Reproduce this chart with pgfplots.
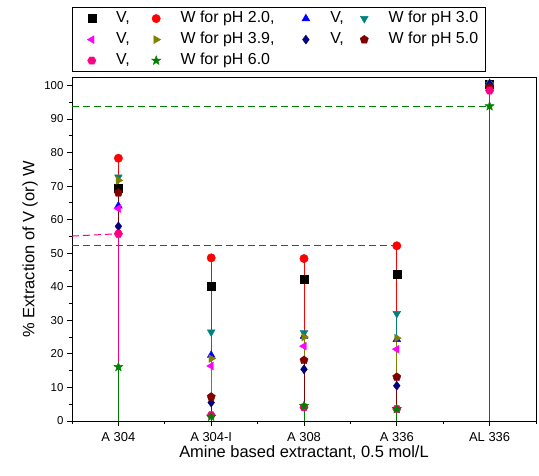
\documentclass[border=0pt]{standalone}
\usepackage{fontspec}
\setmainfont{Liberation Sans}
\usepackage{pgfplots}
\usetikzlibrary{plotmarks}
\pgfplotsset{compat=1.18}
\usepackage{pgfplotstable}

\definecolor{cV20}{RGB}{0,0,0}
\definecolor{cW20}{RGB}{255,0,0}
\definecolor{cV30}{RGB}{0,0,255}
\definecolor{cW30}{RGB}{0,128,128}
\definecolor{cV39}{RGB}{255,0,255}
\definecolor{cW39}{RGB}{128,128,0}
\definecolor{cV50}{RGB}{0,0,128}
\definecolor{cW50}{RGB}{128,0,0}
\definecolor{cV60}{RGB}{255,0,128}
\definecolor{cW60}{RGB}{0,128,0}

\pgfdeclareplotmark{hexagon*}{%
  \pgfpathmoveto{\pgfqpointpolar{0}{\pgfplotmarksize}}%
  \pgfpathlineto{\pgfqpointpolar{60}{\pgfplotmarksize}}%
  \pgfpathlineto{\pgfqpointpolar{120}{\pgfplotmarksize}}%
  \pgfpathlineto{\pgfqpointpolar{180}{\pgfplotmarksize}}%
  \pgfpathlineto{\pgfqpointpolar{240}{\pgfplotmarksize}}%
  \pgfpathlineto{\pgfqpointpolar{300}{\pgfplotmarksize}}%
  \pgfpathclose\pgfusepathqfillstroke}
\pgfdeclareplotmark{fstar}{%
  \pgfpathmoveto{\pgfqpointpolar{90}{1.2\pgfplotmarksize}}%
  \pgfpathlineto{\pgfqpointpolar{126}{0.5\pgfplotmarksize}}%
  \pgfpathlineto{\pgfqpointpolar{162}{1.2\pgfplotmarksize}}%
  \pgfpathlineto{\pgfqpointpolar{198}{0.5\pgfplotmarksize}}%
  \pgfpathlineto{\pgfqpointpolar{234}{1.2\pgfplotmarksize}}%
  \pgfpathlineto{\pgfqpointpolar{270}{0.5\pgfplotmarksize}}%
  \pgfpathlineto{\pgfqpointpolar{306}{1.2\pgfplotmarksize}}%
  \pgfpathlineto{\pgfqpointpolar{342}{0.5\pgfplotmarksize}}%
  \pgfpathlineto{\pgfqpointpolar{18}{1.2\pgfplotmarksize}}%
  \pgfpathlineto{\pgfqpointpolar{54}{0.5\pgfplotmarksize}}%
  \pgfpathclose\pgfusepathqfillstroke}

\pgfplotstableread{
x  V20   W20   V30   W30   V39   W39   V50   W50   V60   W60
0  69.3  78.3  64.1  72.7  63.3  71.7  58.0  68.0  55.8  16.1
1  40.2  48.6  19.6  26.5  16.4  18.6  5.5   7.2   1.7   1.3
2  42.2  48.4  25.3  26.3  22.3  25.0  15.4  18.1  4.1   4.5
3  43.8  52.2  24.3  32.0  21.4  24.7  10.5  13.1  3.6   3.6
4  100.3 100.0 100.6 100.3 100.1 100.4 100.3 99.5  98.5  93.8
}\datatable

\begin{document}
\begin{tikzpicture}
\path[use as bounding box] (-72bp,-55bp) rectangle (467bp,421bp);
\begin{axis}[
  scale only axis,
  width=464bp, height=343bp,
  xmin=-0.5, xmax=4.5, ymin=0, ymax=102.2,
  xtick={0,1,2,3,4},
  xticklabels={A 304, A 304-I, A 308, A 336, AL 336},
  minor xtick={-0.5,0.5,1.5,2.5,3.5,4.5},
  ytick={0,10,...,100},
  minor ytick={5,15,...,95},
  tick align=outside,
  xtick pos=bottom, ytick pos=left,
  major tick length=5bp, minor tick length=3bp,
  every tick/.style={black, line width=0.8pt},
  axis line style={line width=1pt},
  /pgf/number format/assume math mode=true,
  yticklabel style={font=\fontsize{11.5}{13}\selectfont},
  xticklabel style={font=\fontsize{13}{15}\selectfont, yshift=-3bp},
  xlabel={Amine based extractant, 0.5 mol/L},
  ylabel={\% Extraction of V (or) W},
  label style={font=\fontsize{16.5}{19}\selectfont},
  xlabel style={at={(axis description cs:0.5,-0.092)}, anchor=center},
  ylabel style={at={(axis description cs:-0.0905,0.5)}, anchor=center},
  legend columns=4,
  legend cell align=left,
  legend style={at={(axis description cs:0,1)}, anchor=south west, yshift=6bp,
    font=\fontsize{16}{18}\selectfont, draw=black, line width=0.8pt,
    inner xsep=5bp, inner ysep=2bp, row sep=3bp,
    nodes={inner sep=2bp, text height=11bp, text depth=3bp},
    /tikz/column 2/.style={column sep=10bp},
    /tikz/column 4/.style={column sep=15bp},
    /tikz/column 6/.style={column sep=4bp}},
  legend image code/.code={\path (0bp,0bp) (36bp,0bp); \draw[line width=0.4pt] plot coordinates {(14bp,0bp)};},
]
% drop lines
\addplot[cV20, ycomb, line width=0.8pt, forget plot] table[x=x,y=V20]{\datatable};
\addplot[cW20, ycomb, line width=0.8pt, forget plot] table[x=x,y=W20]{\datatable};
\addplot[cV30, ycomb, line width=0.8pt, forget plot] table[x=x,y=V30]{\datatable};
\addplot[cW30, ycomb, line width=0.8pt, forget plot] table[x=x,y=W30]{\datatable};
\addplot[cV39, ycomb, line width=0.8pt, forget plot] table[x=x,y=V39]{\datatable};
\addplot[cW39, ycomb, line width=0.8pt, forget plot] table[x=x,y=W39]{\datatable};
\addplot[cV50, ycomb, line width=0.8pt, forget plot] table[x=x,y=V50]{\datatable};
\addplot[cW50, ycomb, line width=0.8pt, forget plot] table[x=x,y=W50]{\datatable};
\addplot[cV60, ycomb, line width=0.8pt, forget plot] table[x=x,y=V60]{\datatable};
\addplot[cW60, ycomb, line width=0.8pt, forget plot] table[x=x,y=W60]{\datatable};
% dashed guide lines
\addplot[cV60, dash pattern=on 7bp off 4bp, line width=1bp, forget plot] coordinates {(-0.5,55.1) (0,55.8)};
\addplot[cW20, dash pattern=on 7bp off 4bp, line width=1bp, forget plot] coordinates {(-0.5,52.3) (3,52.3)};
\addplot[cW60, dash pattern=on 7bp off 4bp, line width=1bp, forget plot] coordinates {(-0.5,93.8) (4,93.8)};
% markers
\addplot[only marks, mark=square*, mark size=4bp, cV20] table[x=x,y=V20]{\datatable};
\addlegendentry{V,}
\addplot[only marks, mark=*, mark size=4.2bp, cW20] table[x=x,y=W20]{\datatable};
\addlegendentry{W for pH 2.0,}
\addplot[only marks, mark=triangle*, mark size=4.5bp, cV30] table[x=x,y=V30]{\datatable};
\addlegendentry{V,}
\addplot[only marks, mark=triangle*, mark size=4.5bp, mark options={rotate=180}, cW30] table[x=x,y=W30]{\datatable};
\addlegendentry{W for pH 3.0}
\addplot[only marks, mark=triangle*, mark size=4.5bp, mark options={rotate=90}, cV39] table[x=x,y=V39]{\datatable};
\addlegendentry{V,}
\addplot[only marks, mark=triangle*, mark size=4.5bp, mark options={rotate=-90}, cW39] table[x=x,y=W39]{\datatable};
\addlegendentry{W for pH 3.9,}
\addplot[only marks, mark=diamond*, mark size=4.5bp, cV50] table[x=x,y=V50]{\datatable};
\addlegendentry{V,}
\addplot[only marks, mark=pentagon*, mark size=4.3bp, cW50] table[x=x,y=W50]{\datatable};
\addlegendentry{W for pH 5.0}
\addplot[only marks, mark=hexagon*, mark size=4.2bp, cV60] table[x=x,y=V60]{\datatable};
\addlegendentry{V,}
\addplot[only marks, mark=fstar, mark size=4bp, cW60] table[x=x,y=W60]{\datatable};
\addlegendentry{W for pH 6.0}
\end{axis}
\end{tikzpicture}
\end{document}
